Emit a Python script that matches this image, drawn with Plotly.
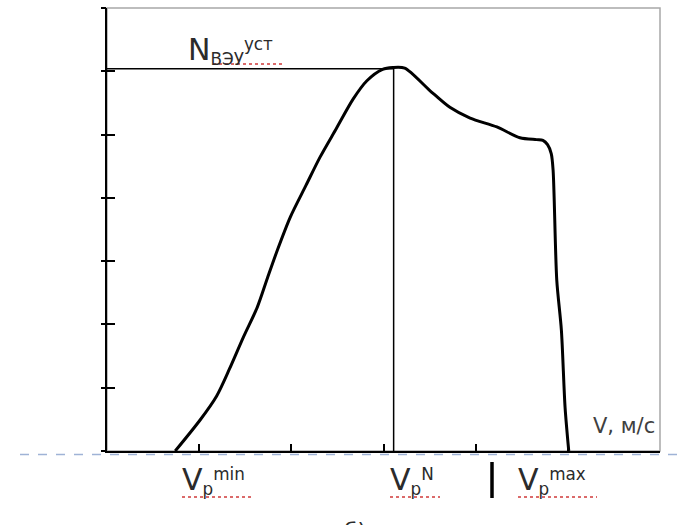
import plotly.graph_objects as go

# ---- data ----
v_curve = [0.74, 1.01, 1.19, 1.33, 1.48, 1.63, 1.74, 1.85, 1.99, 2.16, 2.31, 2.49, 2.67,
           2.82, 2.99, 3.10, 3.23, 3.50, 3.72, 3.94, 4.23, 4.48, 4.66, 4.73, 4.78, 4.82,
           4.84, 4.88, 4.93, 4.97, 5.01]
n_curve = [0.00, 0.49, 0.87, 1.30, 1.80, 2.27, 2.73, 3.18, 3.70, 4.20, 4.64, 5.10, 5.56,
           5.85, 6.03, 6.06, 6.05, 5.70, 5.43, 5.26, 5.12, 4.95, 4.92, 4.91, 4.84, 4.70,
           4.44, 2.70, 1.91, 0.69, 0.00]
n_rated = 6.04          # N_ВЭУ^уст level
v_rated = 3.11          # V_p^N
x_ticks = [0, 1, 2, 3, 4, 5, 6]
y_ticks = [0, 1, 2, 3, 4, 5, 6, 7]

W, H = 679, 525
L, R, T, B = 107, 660, 8, 451  # plot area in pixels


def px(x):
    return (x - L) / (R - L)


def py(y):
    return (B - y) / (B - T)


FONT = "DejaVu Sans"
TXT = "#2b2b2b"

fig = go.Figure()

# rated power horizontal line and rated speed vertical line
fig.add_trace(go.Scatter(x=[0, v_rated], y=[n_rated, n_rated], mode="lines",
                         line=dict(color="black", width=1.5), hoverinfo="skip"))
fig.add_trace(go.Scatter(x=[v_rated, v_rated], y=[0, n_rated], mode="lines",
                         line=dict(color="black", width=1.5), hoverinfo="skip"))
# power curve
fig.add_trace(go.Scatter(x=v_curve, y=n_curve, mode="lines",
                         line=dict(color="black", width=3, shape="spline", smoothing=0.8),
                         hoverinfo="skip"))

shapes = [
    # gray frame top/right
    dict(type="rect", xref="paper", yref="paper", x0=0, x1=1, y0=0, y1=1,
         line=dict(color="#a8a8a8", width=1.5), layer="below"),
    # dashed blue line under the axis
    dict(type="line", xref="paper", yref="paper", x0=px(20), x1=px(679), y0=py(454.5), y1=py(454.5),
         line=dict(color="#9fb3d6", width=1.5, dash="dash")),
    # thick separator bar
    dict(type="line", xref="paper", yref="paper", x0=px(492), x1=px(492), y0=py(462), y1=py(498),
         line=dict(color="black", width=3.5)),
]
# red wavy (spell-check) underlines
for x0, x1, y in [(213, 282, 64), (182, 253, 497), (390, 440, 497), (518, 597, 497)]:
    shapes.append(dict(type="line", xref="paper", yref="paper", x0=px(x0), x1=px(x1), y0=py(y), y1=py(y),
                       line=dict(color="#d03a3a", width=1.5, dash="dot")))

big = "<span style='font-size:30px'>%s</span>"
annotations = [
    dict(text=(big % "N") + "<sub>ВЭУ</sub><sup>уст</sup>", x=px(186), y=py(30),
         xanchor="left", yanchor="top", font=dict(size=24, color=TXT, family=FONT)),
    dict(text=(big % "V") + "<sub>p</sub><sup>min</sup>", x=px(180), y=py(460),
         xanchor="left", yanchor="top", font=dict(size=24, color=TXT, family=FONT)),
    dict(text=(big % "V") + "<sub>p</sub><sup>N</sup>", x=px(388), y=py(460),
         xanchor="left", yanchor="top", font=dict(size=24, color=TXT, family=FONT)),
    dict(text=(big % "V") + "<sub>p</sub><sup>max</sup>", x=px(516), y=py(460),
         xanchor="left", yanchor="top", font=dict(size=24, color=TXT, family=FONT)),
    dict(text="V, м/с", x=px(657), y=py(412), xanchor="right", yanchor="top",
         font=dict(size=21, color="#404040", family=FONT)),
    dict(text="б)", x=px(355), y=py(516), xanchor="center", yanchor="top",
         font=dict(size=22, color=TXT, family=FONT)),
]
for a in annotations:
    a.update(xref="paper", yref="paper", showarrow=False)

fig.update_layout(
    width=W, height=H,
    margin=dict(l=L, r=W - R, t=T, b=H - B, pad=0),
    paper_bgcolor="white", plot_bgcolor="white",
    showlegend=False,
    shapes=shapes, annotations=annotations,
    xaxis=dict(range=[0, 6], tickvals=x_ticks, showticklabels=False, ticks="inside",
               ticklen=7, tickwidth=1.5, tickcolor="black", showline=True, linecolor="black",
               linewidth=2, showgrid=False, zeroline=False, fixedrange=True),
    yaxis=dict(range=[0, 7], tickvals=y_ticks, showticklabels=False, ticks="inside",
               ticklen=8, tickwidth=1.5, tickcolor="black", showline=True, linecolor="black",
               linewidth=2, showgrid=False, zeroline=False, fixedrange=True),
    yaxis2=dict(range=[0, 7], tickvals=y_ticks, overlaying="y", side="left", showticklabels=False,
                ticks="outside", ticklen=5, tickwidth=1.5, tickcolor="black", showline=False,
                showgrid=False, zeroline=False, fixedrange=True),
)
# invisible trace to activate the outside-tick overlay axis
fig.add_trace(go.Scatter(x=[0], y=[0], yaxis="y2", mode="markers",
                         marker=dict(opacity=0), hoverinfo="skip"))

fig.write_html("out.html")
